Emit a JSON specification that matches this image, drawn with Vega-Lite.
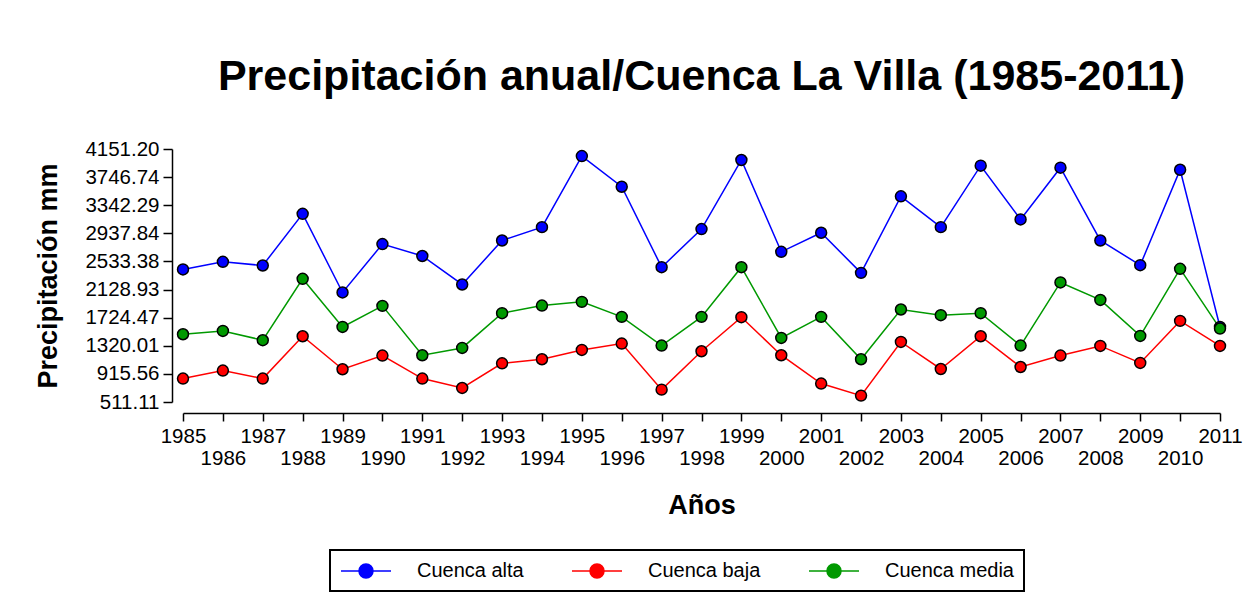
{
  "$schema": "https://vega.github.io/schema/vega-lite/v6.json",
  "width": 1037,
  "height": 253,
  "autosize": {"type": "none"},
  "padding": {"left": 183, "top": 149, "right": 38, "bottom": 190},
  "background": "white",
  "config": {
    "font": "Liberation Sans",
    "view": {"stroke": null},
    "axis": {"domainColor": "black", "tickColor": "black", "labelColor": "black", "titleColor": "black", "domainWidth": 1.5, "tickWidth": 1.5, "grid": false, "labelFont": "Liberation Sans", "titleFont": "Liberation Sans"}
  },
  "title": {
    "text": "Precipitación anual/Cuenca La Villa (1985-2011)",
    "font": "Liberation Sans",
    "fontSize": 43,
    "fontWeight": 900,
    "color": "black",
    "anchor": "middle",
    "offset": 40
  },
  "data": {
    "values": [
      {"year": 1985, "serie": "Cuenca alta", "value": 2418},
      {"year": 1986, "serie": "Cuenca alta", "value": 2528},
      {"year": 1987, "serie": "Cuenca alta", "value": 2475},
      {"year": 1988, "serie": "Cuenca alta", "value": 3219},
      {"year": 1989, "serie": "Cuenca alta", "value": 2087},
      {"year": 1990, "serie": "Cuenca alta", "value": 2783},
      {"year": 1991, "serie": "Cuenca alta", "value": 2612},
      {"year": 1992, "serie": "Cuenca alta", "value": 2202},
      {"year": 1993, "serie": "Cuenca alta", "value": 2835},
      {"year": 1994, "serie": "Cuenca alta", "value": 3027},
      {"year": 1995, "serie": "Cuenca alta", "value": 4050},
      {"year": 1996, "serie": "Cuenca alta", "value": 3608},
      {"year": 1997, "serie": "Cuenca alta", "value": 2451},
      {"year": 1998, "serie": "Cuenca alta", "value": 2999},
      {"year": 1999, "serie": "Cuenca alta", "value": 3993},
      {"year": 2000, "serie": "Cuenca alta", "value": 2672},
      {"year": 2001, "serie": "Cuenca alta", "value": 2946},
      {"year": 2002, "serie": "Cuenca alta", "value": 2369},
      {"year": 2003, "serie": "Cuenca alta", "value": 3470},
      {"year": 2004, "serie": "Cuenca alta", "value": 3027},
      {"year": 2005, "serie": "Cuenca alta", "value": 3911},
      {"year": 2006, "serie": "Cuenca alta", "value": 3138},
      {"year": 2007, "serie": "Cuenca alta", "value": 3882},
      {"year": 2008, "serie": "Cuenca alta", "value": 2835},
      {"year": 2009, "serie": "Cuenca alta", "value": 2480},
      {"year": 2010, "serie": "Cuenca alta", "value": 3853},
      {"year": 2011, "serie": "Cuenca alta", "value": 1590},
      {"year": 1985, "serie": "Cuenca baja", "value": 848},
      {"year": 1986, "serie": "Cuenca baja", "value": 963},
      {"year": 1987, "serie": "Cuenca baja", "value": 848},
      {"year": 1988, "serie": "Cuenca baja", "value": 1457},
      {"year": 1989, "serie": "Cuenca baja", "value": 982},
      {"year": 1990, "serie": "Cuenca baja", "value": 1179},
      {"year": 1991, "serie": "Cuenca baja", "value": 848},
      {"year": 1992, "serie": "Cuenca baja", "value": 713},
      {"year": 1993, "serie": "Cuenca baja", "value": 1068},
      {"year": 1994, "serie": "Cuenca baja", "value": 1126},
      {"year": 1995, "serie": "Cuenca baja", "value": 1260},
      {"year": 1996, "serie": "Cuenca baja", "value": 1352},
      {"year": 1997, "serie": "Cuenca baja", "value": 689},
      {"year": 1998, "serie": "Cuenca baja", "value": 1241},
      {"year": 1999, "serie": "Cuenca baja", "value": 1731},
      {"year": 2000, "serie": "Cuenca baja", "value": 1184},
      {"year": 2001, "serie": "Cuenca baja", "value": 776},
      {"year": 2002, "serie": "Cuenca baja", "value": 603},
      {"year": 2003, "serie": "Cuenca baja", "value": 1375},
      {"year": 2004, "serie": "Cuenca baja", "value": 986},
      {"year": 2005, "serie": "Cuenca baja", "value": 1457},
      {"year": 2006, "serie": "Cuenca baja", "value": 1015},
      {"year": 2007, "serie": "Cuenca baja", "value": 1179},
      {"year": 2008, "serie": "Cuenca baja", "value": 1318},
      {"year": 2009, "serie": "Cuenca baja", "value": 1073},
      {"year": 2010, "serie": "Cuenca baja", "value": 1678},
      {"year": 2011, "serie": "Cuenca baja", "value": 1318},
      {"year": 1985, "serie": "Cuenca media", "value": 1486},
      {"year": 1986, "serie": "Cuenca media", "value": 1534},
      {"year": 1987, "serie": "Cuenca media", "value": 1400},
      {"year": 1988, "serie": "Cuenca media", "value": 2283},
      {"year": 1989, "serie": "Cuenca media", "value": 1591},
      {"year": 1990, "serie": "Cuenca media", "value": 1894},
      {"year": 1991, "serie": "Cuenca media", "value": 1184},
      {"year": 1992, "serie": "Cuenca media", "value": 1289},
      {"year": 1993, "serie": "Cuenca media", "value": 1789},
      {"year": 1994, "serie": "Cuenca media", "value": 1899},
      {"year": 1995, "serie": "Cuenca media", "value": 1952},
      {"year": 1996, "serie": "Cuenca media", "value": 1736},
      {"year": 1997, "serie": "Cuenca media", "value": 1323},
      {"year": 1998, "serie": "Cuenca media", "value": 1736},
      {"year": 1999, "serie": "Cuenca media", "value": 2451},
      {"year": 2000, "serie": "Cuenca media", "value": 1433},
      {"year": 2001, "serie": "Cuenca media", "value": 1736},
      {"year": 2002, "serie": "Cuenca media", "value": 1126},
      {"year": 2003, "serie": "Cuenca media", "value": 1842},
      {"year": 2004, "serie": "Cuenca media", "value": 1760},
      {"year": 2005, "serie": "Cuenca media", "value": 1789},
      {"year": 2006, "serie": "Cuenca media", "value": 1323},
      {"year": 2007, "serie": "Cuenca media", "value": 2231},
      {"year": 2008, "serie": "Cuenca media", "value": 1980},
      {"year": 2009, "serie": "Cuenca media", "value": 1462},
      {"year": 2010, "serie": "Cuenca media", "value": 2427},
      {"year": 2011, "serie": "Cuenca media", "value": 1568}
    ]
  },
  "encoding": {
    "x": {
      "field": "year",
      "type": "quantitative",
      "scale": {"domain": [1985, 2011], "nice": false, "zero": false},
      "axis": {
        "title": "Años",
        "values": [1985,1986,1987,1988,1989,1990,1991,1992,1993,1994,1995,1996,1997,1998,1999,2000,2001,2002,2003,2004,2005,2006,2007,2008,2009,2010,2011],
        "format": "d",
        "labelExpr": "datum.value % 2 == 0 ? ['', datum.label] : datum.label",
        "labelLineHeight": 22,
        "labelFontSize": 20.5,
        "labelFlush": false,
        "labelOverlap": false,
        "labelPadding": 5,
        "tickSize": 8,
        "offset": 11,
        "titleFontSize": 27,
        "titleFontWeight": "bold",
        "titlePadding": 24
      }
    },
    "y": {
      "field": "value",
      "type": "quantitative",
      "scale": {"domain": [511.11, 4151.20], "nice": false, "zero": false},
      "axis": {
        "title": "Precipitación mm",
        "values": [511.11, 915.56, 1320.01, 1724.47, 2128.93, 2533.38, 2937.84, 3342.29, 3746.74, 4151.20],
        "format": ".2f",
        "labelFontSize": 20.5,
        "labelPadding": 4,
        "tickSize": 9,
        "offset": 11,
        "titleFontSize": 27,
        "titleFontWeight": "bold",
        "titlePadding": 22
      }
    },
    "color": {
      "field": "serie",
      "type": "nominal",
      "scale": {"domain": ["Cuenca alta", "Cuenca baja", "Cuenca media"], "range": ["#0000FF", "#FF0000", "#009900"]},
      "legend": {
        "title": null,
        "orient": "none",
        "legendX": 147,
        "legendY": 401,
        "direction": "horizontal",
        "strokeColor": "black",
        "padding": 10,
        "labelFontSize": 20,
        "labelColor": "black",
        "labelOffset": 55,
        "columnPadding": 45,
        "symbolType": "M-1,0L0.8,0M2.2,0L4,0M2.2,0A0.7,0.7 0 1 1 0.8,0A0.7,0.7 0 1 1 2.2,0Z",
        "symbolSize": 400,
        "symbolStrokeWidth": 1.5,
        "symbolOpacity": 1,
        "encode": {"legend": {"update": {"strokeWidth": {"value": 2}}}}
      }
    }
  },
  "layer": [
    {"mark": {"type": "line", "strokeWidth": 1.5}},
    {"mark": {"type": "point", "filled": true, "size": 120, "stroke": "black", "strokeWidth": 1.5, "opacity": 1}}
  ]
}
